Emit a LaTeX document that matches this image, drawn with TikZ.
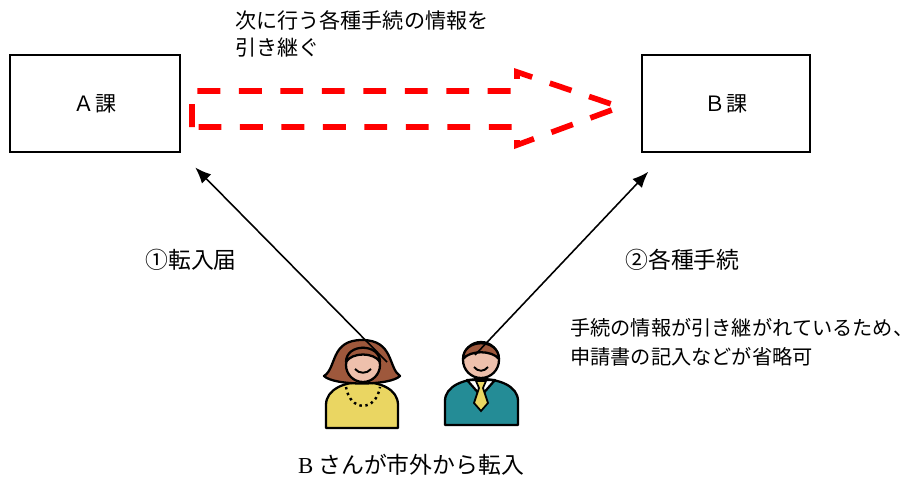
\documentclass[tikz,border=0pt]{standalone}
\usepackage{fontspec}
\setmainfont{Liberation Serif}
\newfontfamily\jp{Noto Sans CJK JP}
\usetikzlibrary{arrows.meta,positioning}
\definecolor{hairbrown}{RGB}{158,88,60}
\definecolor{skin}{RGB}{238,192,172}
\definecolor{dressyellow}{RGB}{234,214,98}
\definecolor{suitteal}{RGB}{36,140,150}

\begin{document}
\begin{tikzpicture}[x=0.02cm,y=-0.02cm,font=\jp\fontsize{12}{15}\selectfont,
  box/.style={draw,line width=1pt,minimum height=1.94cm,align=center,inner sep=3pt},
  label/.style={align=left,inner sep=0pt},
  arr/.style={-{Latex[length=0.32cm,width=0.26cm]},line width=0.9pt},
  move/.style={draw=red,line width=3.2pt,dash pattern=on 13pt off 10.6pt},
  toon/.style={draw=black,line width=1.3pt,line join=round}]
\useasboundingbox (0,0) rectangle (920,480);
\node[box,minimum width=3.4cm] (A) at (95,103.5) {Ａ課};
\node[box,minimum width=3.36cm] (B) at (726,103.5) {Ｂ課};
\draw[move] (192,127) -- (192,91) -- (517,91) -- (517,72) -- (620,107) -- (517,145) -- (517,127) -- cycle;
\node[label,anchor=west] (handover) at (235,34) {次に行う各種手続の情報を\\引き継ぐ};
\node[label,anchor=west,font=\jp\fontsize{13}{15}\selectfont] (step1) at (145,260) {①転入届};
\node[label,anchor=west,font=\jp\fontsize{13}{15}\selectfont] (step2) at (625,260) {②各種手続};
\node[label,anchor=west,font=\jp\fontsize{11.5}{16.5}\selectfont] (note) at (570,342) {手続の情報が引き継がれているため、\\申請書の記入などが省略可};
\node[label,font=\jp\fontsize{13}{15}\selectfont] (who) at (411,465) {{\rmfamily B} さんが市外から転入};
% woman
\draw[toon,fill=dressyellow] (326,428) -- (326,405) .. controls (326,389) and (345,382) .. (362,382) .. controls (380,382) and (398,389) .. (398,405) -- (398,428) -- cycle;
\draw[toon,fill=hairbrown] (324,376) .. controls (337,368) and (330,340) .. (362,340) .. controls (394,340) and (388,368) .. (400,376) .. controls (390,386) and (334,386) .. cycle;
\draw[toon,fill=skin] (363,365) circle[radius=17];
\draw[toon,fill=hairbrown] (346,362) .. controls (346,343) and (380,343) .. (380,362) .. controls (374,352) and (352,352) .. cycle;
\draw[line width=1.1pt] (355,369) .. controls (359,374) and (367,374) .. (371,369);
\draw[line width=1.4pt,dotted] (346,387) .. controls (350,412) and (376,412) .. (380,387);
% man
\draw[toon,fill=suitteal] (445,425) -- (445,401) .. controls (445,386) and (464,379) .. (481,379) .. controls (499,379) and (518,386) .. (518,401) -- (518,425) -- cycle;
\draw[toon,fill=white] (467,380) -- (481,396) -- (495,380) -- cycle;
\draw[line width=1pt,fill=dressyellow] (476,381) -- (486,381) -- (483,388) -- (488,403) -- (481,411) -- (474,403) -- (479,388) -- cycle;
\draw[toon,fill=skin] (481,360) circle[radius=18];
\draw[toon,fill=hairbrown] (463,359) .. controls (463,338) and (499,338) .. (499,359) .. controls (492,350) and (470,350) .. cycle;
\draw[line width=1.1pt] (474,367) .. controls (478,372) and (484,372) .. (488,367);
\coordinate (womanhead) at (387,362);
\coordinate (manhead) at (475,355);
\draw[arr,shorten >=0.41cm] (womanhead) -- (A.south east);
\draw[arr,shorten >=0.52cm] (manhead) -- ([xshift=0.5cm]B.south west);
\end{tikzpicture}
\end{document}
